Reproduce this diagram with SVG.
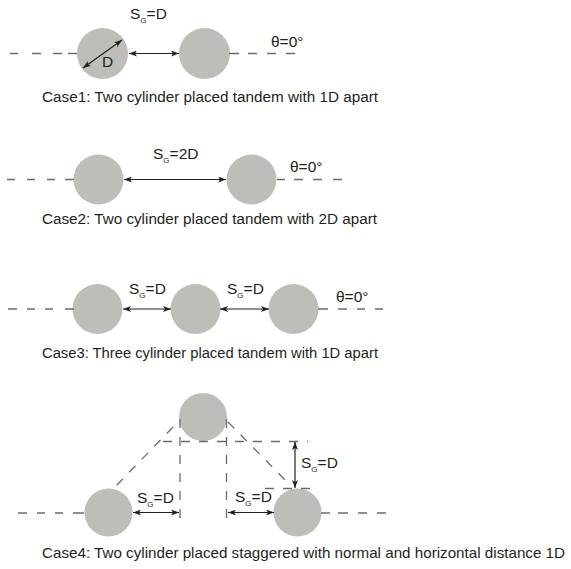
<svg xmlns="http://www.w3.org/2000/svg" width="571" height="569" viewBox="0 0 571 569">
<defs>
<marker id="ah" viewBox="0 0 8 6" refX="8" refY="3" markerWidth="8" markerHeight="6" markerUnits="userSpaceOnUse" orient="auto-start-reverse">
<path d="M0,0 L8,3 L0,6 L2,3 Z" fill="#231f20"/>
</marker>
</defs>
<style>
.cyl{fill:#bebdb8}
.dash{fill:none;stroke:#6b6b6b;stroke-width:1.3}
.dd{stroke-dasharray:9 9}
.arr{fill:none;stroke:#231f20;stroke-width:1.2;marker-start:url(#ah);marker-end:url(#ah)}
text{font-family:"Liberation Sans",Arial,sans-serif;fill:#231f20}
.lbl{font-size:15.5px}
.sub{font-size:8px}
.cap{font-size:15.2px}
.cap4{font-size:14.8px}
</style>
<rect width="571" height="569" fill="#ffffff"/>

<g id="case1">
<g id="c1a"><circle class="cyl" cx="102.5" cy="53.5" r="25.5"/></g>
<g id="c1b"><circle class="cyl" cx="204.5" cy="53.5" r="25.5"/></g>
<text class="lbl" x="102" y="67">D</text>
<text class="lbl" x="130" y="19">S<tspan class="sub" dy="4">G</tspan><tspan dy="-4">=D</tspan></text>
<text class="lbl" x="271" y="47">θ=0°</text>
<text class="cap" x="42" y="102" textLength="336" lengthAdjust="spacingAndGlyphs">Case1: Two cylinder placed tandem with 1D apart</text>
</g>

<g id="case2">
<g id="c2a"><circle class="cyl" cx="98.5" cy="179.5" r="25"/></g>
<g id="c2b"><circle class="cyl" cx="251.5" cy="179.5" r="25"/></g>
<text class="lbl" x="153" y="159">S<tspan class="sub" dy="4">G</tspan><tspan dy="-4">=2D</tspan></text>
<text class="lbl" x="290" y="172">θ=0°</text>
<text class="cap" x="42" y="224" textLength="335" lengthAdjust="spacingAndGlyphs">Case2: Two cylinder placed tandem with 2D apart</text>
</g>

<g id="case3">
<g id="c3a"><circle class="cyl" cx="97.5" cy="309" r="25"/></g>
<g id="c3b"><circle class="cyl" cx="195.5" cy="309" r="25"/></g>
<g id="c3c"><circle class="cyl" cx="293.5" cy="309" r="25"/></g>
<text class="lbl" x="129" y="294">S<tspan class="sub" dy="4">G</tspan><tspan dy="-4">=D</tspan></text>
<text class="lbl" x="227" y="294">S<tspan class="sub" dy="4">G</tspan><tspan dy="-4">=D</tspan></text>
<text class="lbl" x="336" y="302">θ=0°</text>
<text class="cap" x="42" y="358" textLength="336" lengthAdjust="spacingAndGlyphs">Case3: Three cylinder placed tandem with 1D apart</text>
</g>

<g id="case4">
<g id="c4top"><circle class="cyl" cx="203" cy="417" r="24"/></g>
<g id="c4left"><circle class="cyl" cx="108.5" cy="512.5" r="24"/></g>
<g id="c4right"><circle class="cyl" cx="297.5" cy="512.5" r="24"/></g>
<text class="lbl" x="301" y="468">S<tspan class="sub" dy="4">G</tspan><tspan dy="-4">=D</tspan></text>
<text class="lbl" x="137" y="503">S<tspan class="sub" dy="4">G</tspan><tspan dy="-4">=D</tspan></text>
<text class="lbl" x="235" y="502">S<tspan class="sub" dy="4">G</tspan><tspan dy="-4">=D</tspan></text>
<text class="cap4" x="42" y="558" textLength="523" lengthAdjust="spacingAndGlyphs">Case4: Two cylinder placed staggered with normal and horizontal distance 1D</text>
</g>

<g id="connectors">
<!-- Case1 -->
<path class="dash" d="M10 53.5h8M32 53.5h9M53 53.5h9M68 53.5h9M229 53.5h10M248 53.5h9M267 53.5h9M286 53.5h9"/>
<line class="arr" x1="129" y1="53.5" x2="179" y2="53.5"/>
<line class="arr" x1="83" y1="68" x2="122" y2="40"/>
<!-- Case2 -->
<path class="dash" d="M7 179.5h8M27 179.5h8M47 179.5h8M65 179.5h9M277 179.5h8M294 179.5h9M313 179.5h9M333 179.5h9"/>
<line class="arr" x1="124" y1="179.5" x2="226" y2="179.5"/>
<!-- Case3 -->
<path class="dash" d="M8 309h9M27 309h8M45 309h8M65 309h9M318 309h10M338 309h9M357 309h8M375 309h8"/>
<line class="arr" x1="123" y1="309" x2="171" y2="309"/>
<line class="arr" x1="220" y1="309" x2="269" y2="309"/>
<!-- Case4 -->
<path class="dash" d="M18 513h9M37 513h8M55 513h8M73 513h11M321 513h9M338 513h10M358 513h9M377 513h9"/>
<line class="dash dd" x1="180" y1="419" x2="180" y2="522"/>
<line class="dash dd" x1="226.5" y1="419" x2="226.5" y2="522"/>
<line class="dash dd" x1="163" y1="441.5" x2="308" y2="441.5"/>
<line class="dash dd" x1="265" y1="488.5" x2="318" y2="488.5"/>
<line class="dash dd" x1="173" y1="427" x2="115" y2="487"/>
<line class="dash dd" x1="228" y1="422" x2="290" y2="485"/>
<line class="arr" x1="295" y1="442" x2="295" y2="488"/>
<line class="arr" x1="133" y1="512.5" x2="179" y2="512.5"/>
<line class="arr" x1="228" y1="512.5" x2="274" y2="512.5"/>
</g>
</svg>
